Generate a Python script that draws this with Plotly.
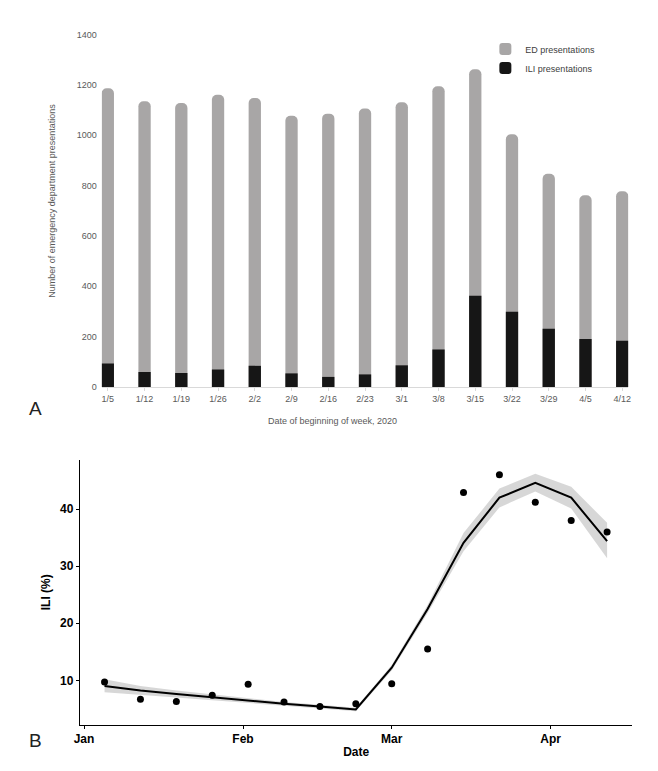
import plotly.graph_objects as go

# ---- Panel A data ----
weeks = ["1/5", "1/12", "1/19", "1/26", "2/2", "2/9", "2/16", "2/23",
         "3/1", "3/8", "3/15", "3/22", "3/29", "4/5", "4/12"]
ed_presentations = [1187, 1135, 1128, 1161, 1148, 1078, 1086, 1106,
                    1131, 1195, 1262, 1004, 847, 762, 778]
ili_presentations = [93, 60, 56, 69, 84, 54, 40, 50,
                     86, 149, 362, 299, 231, 191, 184]
y_ticks_a = [0, 200, 400, 600, 800, 1000, 1200, 1400]

# ---- Panel B data ----
dates = ["2020-01-05", "2020-01-12", "2020-01-19", "2020-01-26", "2020-02-02",
         "2020-02-09", "2020-02-16", "2020-02-23", "2020-03-01", "2020-03-08",
         "2020-03-15", "2020-03-22", "2020-03-29", "2020-04-05", "2020-04-12"]
ili_pct = [9.7, 6.7, 6.3, 7.4, 9.3, 6.2, 5.4, 5.9,
           9.4, 15.5, 42.9, 46.0, 41.2, 38.0, 36.0]
fit = [9.0, 8.2, 7.6, 7.0, 6.4, 5.9, 5.4, 4.9,
       12.2, 22.5, 34.1, 42.0, 44.6, 42.0, 34.4]
fit_upper = [10.2, 9.0, 8.2, 7.5, 6.8, 6.2, 5.7, 5.2,
             12.7, 23.2, 35.8, 43.6, 46.2, 43.9, 37.6]
fit_lower = [7.9, 7.5, 7.0, 6.5, 6.0, 5.6, 5.1, 4.6,
             11.7, 21.8, 32.6, 40.3, 43.1, 40.1, 31.4]
month_ticks = ["2020-01-01", "2020-02-01", "2020-03-01", "2020-04-01"]
month_labels = ["Jan", "Feb", "Mar", "Apr"]
y_ticks_b = [10, 20, 30, 40]

W, H = 658, 771
FONT_A = "Liberation Sans, Arial, sans-serif"
GREY_TXT = "#595959"

fig = go.Figure()

xi = list(range(len(weeks)))
fig.add_trace(go.Bar(
    x=xi, y=ed_presentations, name="ED presentations",
    marker=dict(color="#a8a6a6", line=dict(width=0), cornerradius=5),
    width=0.335, xaxis="x", yaxis="y",
))
fig.add_trace(go.Bar(
    x=xi, y=ili_presentations, name="ILI presentations",
    marker=dict(color="#161616", line=dict(width=0), cornerradius=4),
    width=0.335, xaxis="x", yaxis="y",
))

# Panel B: CI band, fit line, points
fig.add_trace(go.Scatter(
    x=dates, y=fit_upper, mode="lines", line=dict(width=0),
    showlegend=False, hoverinfo="skip", xaxis="x2", yaxis="y2",
))
fig.add_trace(go.Scatter(
    x=dates, y=fit_lower, mode="lines", line=dict(width=0),
    fill="tonexty", fillcolor="rgba(150,150,150,0.38)",
    showlegend=False, hoverinfo="skip", xaxis="x2", yaxis="y2",
))
fig.add_trace(go.Scatter(
    x=dates, y=fit, mode="lines", line=dict(color="black", width=2),
    showlegend=False, xaxis="x2", yaxis="y2",
))
fig.add_trace(go.Scatter(
    x=dates, y=ili_pct, mode="markers",
    marker=dict(color="black", size=7),
    showlegend=False, xaxis="x2", yaxis="y2",
))

def px(x):
    return x / W

def py(y):
    return 1 - y / H

def label(text, x, y, size, color, angle=0):
    return dict(text=text, x=px(x), y=py(y), xref="paper", yref="paper",
                xanchor="center", yanchor="middle", textangle=angle,
                showarrow=False, font=dict(family=FONT_A, size=size, color=color))

fig.update_layout(
    width=W, height=H,
    margin=dict(l=0, r=0, t=0, b=0),
    paper_bgcolor="white", plot_bgcolor="white",
    barmode="overlay",
    font=dict(family=FONT_A, size=9, color=GREY_TXT),
    legend=dict(
        x=px(486), y=py(30), xanchor="left", yanchor="top",
        font=dict(family=FONT_A, size=9, color="#404040"),
        bgcolor="rgba(0,0,0,0)", itemwidth=30, tracegroupgap=0,
        traceorder="normal",
    ),
    xaxis=dict(
        domain=[px(97), px(631)], anchor="y",
        range=[-0.167, 14.167],
        tickmode="array", tickvals=xi, ticktext=weeks,
        showline=True, linecolor="#d9d9d9", linewidth=1,
        ticks="outside", ticklen=3, tickcolor="#d9d9d9",
        showgrid=False, zeroline=False,
        tickfont=dict(family=FONT_A, size=9, color=GREY_TXT),
    ),
    yaxis=dict(
        domain=[py(387), py(30)], anchor="x",
        range=[0, 1400], tickvals=y_ticks_a,
        showline=False, showgrid=False, zeroline=False, ticks="",
        ticklabelstandoff=4,
        tickfont=dict(family=FONT_A, size=9, color=GREY_TXT),
    ),
    xaxis2=dict(
        domain=[px(75), px(635)], anchor="y2", type="date",
        range=["2019-12-31 05:00", "2020-04-16 22:00"],
        tickmode="array", tickvals=month_ticks, ticktext=month_labels,
        showline=True, linecolor="black", linewidth=1.3,
        ticks="outside", ticklen=3, tickcolor="black", tickwidth=1,
        showgrid=False, zeroline=False,
        tickfont=dict(family=FONT_A, size=12, color="black", weight="bold"),
        title=dict(text="Date", standoff=2,
                   font=dict(family=FONT_A, size=12, color="black", weight="bold")),
    ),
    yaxis2=dict(
        domain=[py(729), py(461)], anchor="x2",
        range=[2.25, 48.6], tickvals=y_ticks_b,
        showline=True, linecolor="black", linewidth=1.3,
        ticks="outside", ticklen=3, tickcolor="black", tickwidth=1,
        showgrid=False, zeroline=False,
        tickfont=dict(family=FONT_A, size=12, color="black", weight="bold"),
        title=dict(text="ILI (%)", standoff=6,
                   font=dict(family=FONT_A, size=12, color="black", weight="bold")),
    ),
    annotations=[
        label("Number of emergency department presentations", 47, 198, 9, GREY_TXT, -90),
        label("Date of beginning of week, 2020", 331, 421, 9, GREY_TXT),
        label("A", 30, 409, 19, "#222222"),
        label("B", 30, 745, 19, "#222222"),
    ],
)

fig.write_html(
    "out.html",
    config={"displayModeBar": False},
    post_script="document.body.style.margin='0';document.body.style.overflow='hidden';",
)
